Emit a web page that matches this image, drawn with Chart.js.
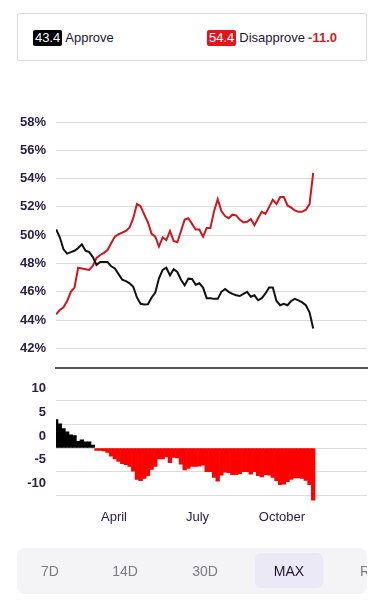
<!DOCTYPE html>
<html>
<head>
<meta charset="utf-8">
<script src="https://cdn.jsdelivr.net/npm/chart.js@4"></script>
<style>
  html, body { margin: 0; padding: 0; background: #fff; }
  body { width: 384px; height: 600px; position: relative; overflow: hidden;
         font-family: Helvetica, Arial, "Liberation Sans", sans-serif; color: #1e1535; }
  .summary { position: absolute; left: 17px; top: 13px; width: 348px; height: 46px;
             border: 1px solid #dcdcdc; border-radius: 2px; }
  .item { position: absolute; top: 16px; font-size: 13px; line-height: 16px; white-space: nowrap; }
  .badge { display: inline-block; color: #fff; padding: 0 2px; border-radius: 2px; margin-right: 3px; }
  .net { color: #d01c1c; font-weight: bold; margin-left: 3px; }
  canvas { position: absolute; left: 0; }
  .tabs { position: absolute; left: 17px; top: 548px; width: 350px; height: 46px;
          background: #f4f4f6; border-radius: 8px; overflow: hidden; }
  .tab { position: absolute; top: 0; height: 46px; line-height: 46px; font-size: 14px;
         color: #7b7b82; transform: translateX(-50%); white-space: nowrap; }
  .tab.on { color: #1c1233; }
  .hl { position: absolute; left: 238px; top: 5px; width: 68px; height: 35px;
        background: #ece9f7; border-radius: 6px; }
</style>
</head>
<body>
<div class="summary">
  <div class="item" style="left:15px"><span class="badge" id="approve-now" style="background:#000"></span>Approve</div>
  <div class="item" style="left:189px"><span class="badge" id="disapprove-now" style="background:#e0161c"></span>Disapprove<span class="net" id="net-now"></span></div>
</div>

<canvas id="trendChart" width="384" height="286" style="top:100px"></canvas>
<canvas id="netChart" width="384" height="171" style="top:359px"></canvas>

<div class="tabs">
  <div class="hl"></div>
  <div class="tab" style="left:33px">7D</div>
  <div class="tab" style="left:108px">14D</div>
  <div class="tab" style="left:188px">30D</div>
  <div class="tab on" style="left:272px">MAX</div>
  <div class="tab" style="left:348px">R</div>
</div>

<script>
// ==== Data ====
// days since Jan 20
const days = [8, 12, 16, 20, 24, 28, 32, 36, 40, 44, 48, 52, 56, 60, 64, 68, 72, 76, 80, 84,
  88, 92, 96, 100, 104, 108, 112, 116, 120, 124, 128, 132, 136, 140, 144, 148, 152, 156, 160, 164,
  168, 172, 176, 180, 184, 188, 192, 196, 200, 204, 208, 212, 216, 220, 224, 228, 232, 236, 240, 244,
  248, 252, 256, 260, 264, 268, 272, 276, 280, 284, 288];

const approve = [50.4, 49.85, 49.0, 48.7, 48.8, 48.9, 49.1, 49.35, 48.9, 48.8,
  48.45, 47.9, 48.1, 48.1, 48.1, 47.8, 47.65, 47.25, 46.85, 46.75,
  46.6, 46.35, 45.6, 45.15, 45.1, 45.12, 45.6, 45.95, 46.95, 47.55,
  47.7, 47.16, 47.6, 47.4, 46.85, 46.46, 46.93, 46.9, 46.5, 46.6,
  46.3, 45.55, 45.55, 45.5, 45.5, 46.0, 46.2, 46.0, 45.85, 45.76,
  45.7, 45.85, 46.0, 45.65, 45.75, 45.4, 45.55, 45.88, 46.3, 46.3,
  45.35, 45.05, 45.15, 45.05, 45.35, 45.5, 45.4, 45.25, 45.05, 44.55, 43.4];

const disapprove = [44.4, 44.72, 44.9, 45.35, 46.0, 46.3, 47.7, 47.65, 47.6, 47.55,
  47.85, 48.4, 48.6, 48.75, 48.95, 49.45, 49.9, 50.07, 50.18, 50.3,
  50.55, 51.2, 52.2, 52.05, 51.45, 50.9, 50.1, 49.9, 49.2, 49.85,
  49.65, 50.3, 49.6, 49.5, 50.3, 51.1, 51.2, 50.8, 50.4, 50.4,
  49.9, 50.5, 50.5, 51.7, 52.55, 51.7, 51.35, 51.2, 51.45, 51.4,
  51.1, 50.9, 50.95, 51.15, 50.7, 51.2, 51.65, 51.5, 52.0, 52.5,
  52.2, 52.7, 52.7, 52.1, 51.95, 51.75, 51.65, 51.65, 51.8, 52.2, 54.4];

const monthTicks = [71, 162, 254];
const monthLabels = ["April", "July", "October"];
const pctTicks = [42, 44, 46, 48, 50, 52, 54, 56, 58];
const netTicks = [-10, -5, 0, 5, 10];

// net = approve - disapprove, same as the app shows
const net = approve.map((a, i) => +(a - disapprove[i]).toFixed(1));

// ==== Header ====
const last = approve.length - 1;
document.getElementById("approve-now").textContent = approve[last].toFixed(1);
document.getElementById("disapprove-now").textContent = disapprove[last].toFixed(1);
document.getElementById("net-now").textContent = net[last].toFixed(1);

// ==== Chart defaults ====
Chart.defaults.font.family = 'Helvetica, Arial, "Liberation Sans", sans-serif';
Chart.defaults.color = "#2a2045";
Chart.defaults.animation = false;

const X_MIN = 7.84;
const X_MAX = 346.6;
const labelColor = "#2a2045";
const gridColor = "#dcdcdc";

// ==== Approve / Disapprove lines ====
new Chart(document.getElementById("trendChart"), {
  type: "line",
  data: {
    datasets: [
      {
        label: "Approve",
        data: days.map((d, i) => ({ x: d, y: approve[i] })),
        borderColor: "#111",
        borderWidth: 2,
        pointRadius: 0,
        tension: 0
      },
      {
        label: "Disapprove",
        data: days.map((d, i) => ({ x: d, y: disapprove[i] })),
        borderColor: "#d0161b",
        borderWidth: 2,
        pointRadius: 0,
        tension: 0
      }
    ]
  },
  options: {
    responsive: false,
    layout: { padding: { top: 22, right: 17, bottom: 4, left: 0 } },
    plugins: { legend: { display: false }, tooltip: { enabled: false } },
    scales: {
      x: {
        type: "linear",
        min: X_MIN,
        max: X_MAX,
        offset: false,
        ticks: { display: false },
        grid: { display: false, drawTicks: false, offset: false },
        border: { display: true, color: "#555", width: 2 },
        afterFit: s => { s.height = 0; }
      },
      y: {
        min: 40.6,
        max: 58,
        afterBuildTicks: s => { s.ticks = pctTicks.map(v => ({ value: v })); },
        afterFit: s => { s.width = 56; },
        ticks: {
          padding: 10,
          color: labelColor,
          font: { size: 13, weight: "bold" },
          callback: v => v + "%"
        },
        grid: { color: gridColor, drawTicks: false },
        border: { display: false }
      }
    }
  }
});

// ==== Net approval bars ====
new Chart(document.getElementById("netChart"), {
  type: "bar",
  data: {
    datasets: [{
      label: "Net",
      data: days.map((d, i) => ({ x: d, y: net[i] })),
      backgroundColor: net.map(v => v >= 0 ? "#000" : "#ff0000"),
      borderWidth: 0,
      barPercentage: 1,
      categoryPercentage: 1
    }]
  },
  options: {
    responsive: false,
    layout: { padding: { top: 7, right: 17, bottom: 0, left: 0 } },
    plugins: { legend: { display: false }, tooltip: { enabled: false } },
    scales: {
      x: {
        type: "linear",
        min: X_MIN,
        max: X_MAX,
        offset: false,
        afterBuildTicks: s => { s.ticks = monthTicks.map(v => ({ value: v })); },
        afterFit: s => { s.height = 25; },
        ticks: {
          padding: 5,
          autoSkip: false,
          maxRotation: 0,
          color: labelColor,
          font: { size: 13 },
          callback: (v, i) => monthLabels[i]
        },
        grid: { display: false, drawTicks: false, offset: false },
        border: { display: false }
      },
      y: {
        min: -12,
        max: 15,
        afterBuildTicks: s => { s.ticks = netTicks.map(v => ({ value: v })); },
        afterFit: s => { s.width = 56; },
        ticks: {
          padding: 10,
          labelOffset: -12,
          color: labelColor,
          font: { size: 13, weight: "bold" }
        },
        grid: { color: gridColor, drawTicks: false },
        border: { display: false }
      }
    }
  }
});
</script>
</body>
</html>
